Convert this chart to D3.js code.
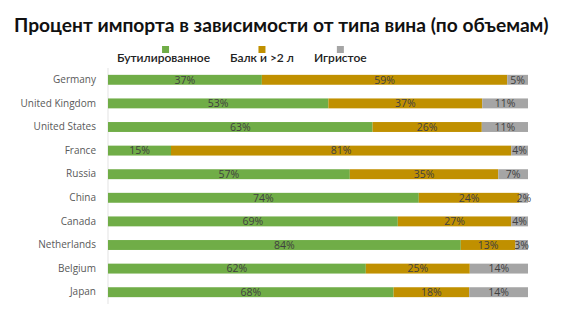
<!DOCTYPE html>
<html>
<head>
<meta charset="utf-8">
<script src="https://cdn.jsdelivr.net/npm/d3@7"></script>
<style>
  body { margin: 0; background: #fff; }
  svg { display: block; }
</style>
</head>
<body>
<div id="chart"></div>
<script>
// data
var countries = ["Germany", "United Kingdom", "United States", "France", "Russia",
                 "China", "Canada", "Netherlands", "Belgium", "Japan"];
var bottled  = [37, 53, 63, 15, 57, 74, 69, 84, 62, 68];
var bulk     = [59, 37, 26, 81, 35, 24, 27, 13, 25, 18];
var sparkling = [5, 11, 11, 4, 7, 2, 4, 3, 14, 14];
var seriesNames = ["Бутилированное", "Балк и >2 л", "Игристое"];
var seriesColors = ["#70ad47", "#c09000", "#a5a5a5"];

var width = 564, height = 325;
var margin = { top: 68, right: 36, bottom: 21, left: 108 };

var svg = d3.select("#chart").append("svg")
    .attr("width", width)
    .attr("height", height);

svg.append("text")
    .attr("x", 14)
    .attr("y", 32)
    .attr("font-family", "Lato, 'Open Sans', sans-serif")
    .attr("font-weight", "bold")
    .attr("font-size", 19.2)
    .attr("fill", "#111")
    .text("Процент импорта в зависимости от типа вина (по объемам)");

// legend
var legendX = [117, 230, 314];
seriesNames.forEach(function(name, i) {
    var t = svg.append("text")
        .attr("x", legendX[i])
        .attr("y", 62)
        .attr("font-family", "Lato, 'Open Sans', sans-serif")
        .attr("font-weight", 600)
        .attr("font-size", 12)
        .attr("fill", "#222")
        .text(name);
    var w = t.node().getComputedTextLength();
    svg.append("rect")
        .attr("x", legendX[i] + w / 2 - 3.5 + (i == 0 ? 2 : 0))
        .attr("y", 46)
        .attr("width", 7)
        .attr("height", 7)
        .attr("fill", seriesColors[i]);
});

// rows
var rows = countries.map(function(c, i) {
    var vals = [bottled[i], bulk[i], sparkling[i]];
    var total = d3.sum(vals);
    var x0 = 0;
    return {
        country: c,
        segs: vals.map(function(v, k) {
            var s = { k: k, v: v, x0: x0 / total, x1: (x0 + v) / total };
            x0 += v;
            return s;
        })
    };
});

var x = d3.scaleLinear().domain([0, 1]).range([margin.left, width - margin.right]);
var y = d3.scaleBand()
    .domain(countries)
    .range([margin.top, height - margin.bottom])
    .paddingInner(0.58)
    .paddingOuter(0.29);

svg.append("line")
    .attr("x1", margin.left).attr("x2", margin.left)
    .attr("y1", margin.top).attr("y2", height - margin.bottom)
    .attr("stroke", "#e3e3e3")
    .attr("stroke-width", 1);

var yAxis = svg.append("g")
    .attr("transform", "translate(" + margin.left + ",0)")
    .call(d3.axisLeft(y).tickSize(0).tickPadding(12));
yAxis.select(".domain").remove();
yAxis.selectAll("text")
    .attr("font-family", "'Open Sans', sans-serif")
    .attr("font-size", 10)
    .attr("fill", "#595959");

var row = svg.selectAll(".row")
    .data(rows)
    .enter().append("g")
    .attr("class", "row")
    .attr("transform", function(d) { return "translate(0," + y(d.country) + ")"; });

row.selectAll("rect")
    .data(function(d) { return d.segs; })
    .enter().append("rect")
    .attr("x", function(d) { return x(d.x0); })
    .attr("width", function(d) { return x(d.x1) - x(d.x0); })
    .attr("y", 0)
    .attr("height", y.bandwidth())
    .attr("fill", function(d) { return seriesColors[d.k]; });

row.selectAll("text")
    .data(function(d) { return d.segs; })
    .enter().append("text")
    .attr("x", function(d) { return (x(d.x0) + x(d.x1)) / 2; })
    .attr("y", y.bandwidth() / 2)
    .attr("dy", "0.36em")
    .attr("text-anchor", "middle")
    .attr("font-family", "'Open Sans', sans-serif")
    .attr("font-size", 10.5)
    .attr("fill", "#404040")
    .text(function(d) { return d.v + "%"; });
</script>
</body>
</html>
